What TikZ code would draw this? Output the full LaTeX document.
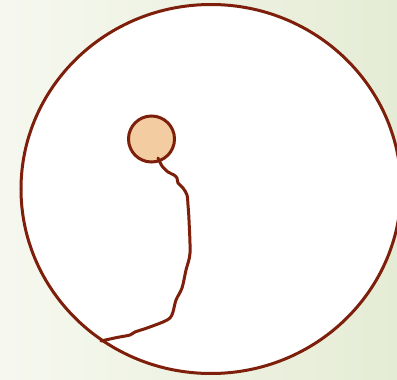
\documentclass[tikz,border=0pt]{standalone}
\usepackage{tikz}
\definecolor{rim}{HTML}{7E1F0C}
\definecolor{core}{HTML}{F4CCA1}
\definecolor{bgleft}{HTML}{F6F8EF}
\definecolor{bgright}{HTML}{E5ECD5}

\begin{document}
\begin{tikzpicture}[x=1pt, y=-1pt]
  % background
  \shade[left color=bgleft, right color=bgright] (0,0) rectangle (397,380);
  \useasboundingbox (0,0) rectangle (397,380);

  % cell body
  \begin{scope}
    \clip (0,0) rectangle (397,380);
    \draw[rim, line width=3pt, fill=white] (211,189) ellipse [x radius=190, y radius=184.5];
  \end{scope}

  % nucleus
  \draw[rim, line width=3pt, fill=core] (151.5,139) circle [radius=23];

  % tail
  \draw[rim, line width=3pt, line cap=round] plot[smooth, tension=0.5] coordinates {
    (158,158) (162,166) (168,172) (174,175) (177,178) (178,183) (183,188)
    (187,195) (188,205) (189,220) (190,253) (186,270) (182,288) (176,300)
    (173,312) (170,318) (163,322) (147,328) (135,332) (130,335) (117,337.5) (101,341)};
\end{tikzpicture}
\end{document}
